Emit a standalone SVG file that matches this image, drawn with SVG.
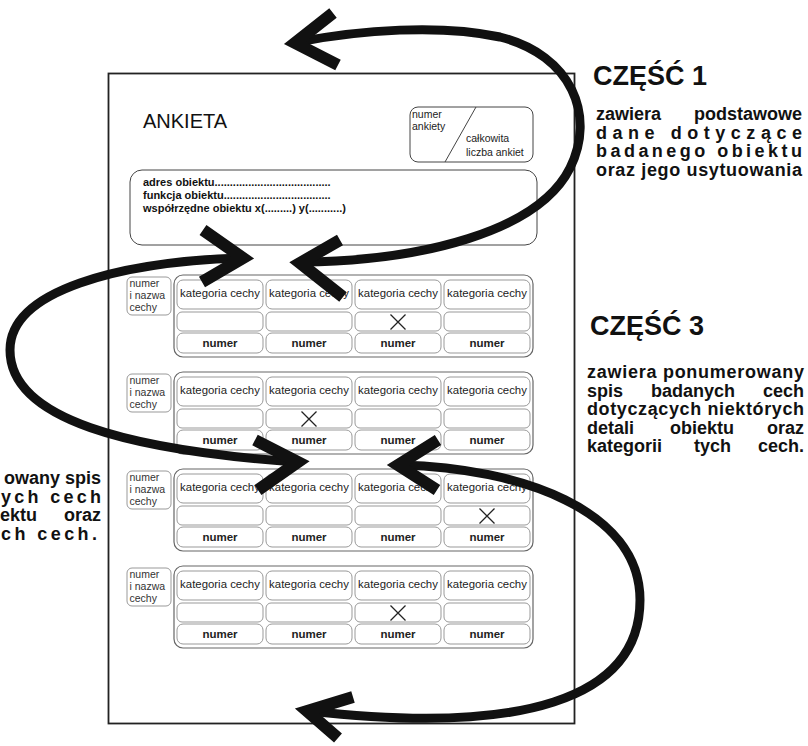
<svg xmlns="http://www.w3.org/2000/svg" width="808" height="746" viewBox="0 0 808 746">
<defs>
<style>
text{font-family:"Liberation Sans",Arial,sans-serif;fill:#111}
.page{fill:#fff;stroke:#222;stroke-width:1.8}
.box{fill:none;stroke:#444;stroke-width:1}
.outer{fill:none;stroke:#666;stroke-width:1.2}
.cell{fill:none;stroke:#999;stroke-width:1}
.lbl{fill:none;stroke:#999;stroke-width:1}
.lt{font-size:10.5px;fill:#333}
.kat{font-size:11.4px;text-anchor:middle;fill:#222}
.num{font-size:11.5px;font-weight:bold;text-anchor:middle;fill:#222}
.x{stroke:#222;stroke-width:1.3}
.ttl{font-size:27px;font-weight:bold}
.body{font-size:18px;font-weight:bold}
.end{text-anchor:end}
.addr{font-size:11px;font-weight:bold}
.small{font-size:10.5px;fill:#222}
.curve{fill:none;stroke:#111;stroke-width:9;stroke-linecap:round}
.head{fill:none;stroke:#111;stroke-width:12;stroke-linejoin:miter;stroke-miterlimit:10}
</style>
<g id="row">
<rect class="lbl" x="127" y="2" width="44" height="38" rx="5"/>
<text class="lt" x="129.5" y="11.5">numer</text>
<text class="lt" x="129.5" y="23.5">i nazwa</text>
<text class="lt" x="129.5" y="35.5">cechy</text>
<rect class="outer" x="174" y="0" width="359" height="82" rx="9"/>
<rect class="cell" x="177" y="5" width="86" height="29" rx="6"/>
<rect class="cell" x="266" y="5" width="86" height="29" rx="6"/>
<rect class="cell" x="355" y="5" width="86" height="29" rx="6"/>
<rect class="cell" x="444" y="5" width="86" height="29" rx="6"/>
<rect class="cell" x="177" y="37" width="86" height="19" rx="5"/>
<rect class="cell" x="266" y="37" width="86" height="19" rx="5"/>
<rect class="cell" x="355" y="37" width="86" height="19" rx="5"/>
<rect class="cell" x="444" y="37" width="86" height="19" rx="5"/>
<rect class="cell" x="177" y="58" width="86" height="20" rx="6"/>
<rect class="cell" x="266" y="58" width="86" height="20" rx="6"/>
<rect class="cell" x="355" y="58" width="86" height="20" rx="6"/>
<rect class="cell" x="444" y="58" width="86" height="20" rx="6"/>
<text class="kat" x="220" y="21.5">kategoria cechy</text>
<text class="kat" x="309" y="21.5">kategoria cechy</text>
<text class="kat" x="398" y="21.5">kategoria cechy</text>
<text class="kat" x="487" y="21.5">kategoria cechy</text>
<text class="num" x="220" y="71.5">numer</text>
<text class="num" x="309" y="71.5">numer</text>
<text class="num" x="398" y="71.5">numer</text>
<text class="num" x="487" y="71.5">numer</text>
</g>
<path id="cross" class="x" d="M-7.5,-7.5L7.5,7.5M7.5,-7.5L-7.5,7.5"/>
</defs>

<g id="page">
<rect class="page" x="108.5" y="73.5" width="466" height="650"/>
<text x="143" y="128" style="font-size:20px">ANKIETA</text>
</g>

<g id="numer-ankiety">
<rect class="box" x="410" y="107" width="123" height="55" rx="8"/>
<line class="box" x1="476" y1="107" x2="445" y2="162"/>
<text class="small" x="412" y="118">numer</text>
<text class="small" x="412" y="130">ankiety</text>
<text class="small" x="466" y="142">całkowita</text>
<text class="small" x="466" y="156">liczba ankiet</text>
</g>

<g id="adres">
<rect class="box" x="130" y="170" width="407" height="75" rx="12"/>
<text class="addr" x="143" y="186">adres obiektu<tspan>......................................</tspan></text>
<text class="addr" x="143" y="199">funkcja obiektu<tspan>...................................</tspan></text>
<text class="addr" x="143" y="212">współrzędne obiektu x(.........) y(...........)</text>
</g>

<g id="row1"><use href="#row" transform="translate(0,275)"/><use href="#cross" x="398" y="322"/></g>
<g id="row2"><use href="#row" transform="translate(0,372)"/><use href="#cross" x="309" y="419"/></g>
<g id="row3"><use href="#row" transform="translate(0,469)"/><use href="#cross" x="487" y="516"/></g>
<g id="row4"><use href="#row" transform="translate(0,566)"/><use href="#cross" x="398" y="613"/></g>

<g id="czesc1">
<text class="ttl" x="593" y="85">CZĘŚĆ 1</text>
<text class="body" x="596" y="120">zawiera</text>
<text class="body end" x="802" y="120">podstawowe</text>
<text class="body" x="596" y="138.5" textLength="206" lengthAdjust="spacing">dane dotyczące</text>
<text class="body" x="596" y="157" textLength="206" lengthAdjust="spacing">badanego obiektu</text>
<text class="body" x="596" y="175.5" textLength="206" lengthAdjust="spacing">oraz jego usytuowania</text>
</g>

<g id="czesc3">
<text class="ttl" x="590" y="335">CZĘŚĆ 3</text>
<text class="body" x="587" y="378" textLength="217" lengthAdjust="spacing">zawiera ponumerowany</text>
<text class="body" x="587" y="396.5">spis</text>
<text class="body" x="651" y="396.5">badanych</text>
<text class="body end" x="804" y="396.5">cech</text>
<text class="body" x="587" y="415" textLength="217" lengthAdjust="spacing">dotyczących niektórych</text>
<text class="body" x="587" y="433.5">detali</text>
<text class="body" x="670" y="433.5">obiektu</text>
<text class="body end" x="804" y="433.5">oraz</text>
<text class="body" x="587" y="452">kategorii</text>
<text class="body" x="694" y="452">tych</text>
<text class="body end" x="804" y="452">cech.</text>
</g>

<g id="czesc2">
<text class="body end" x="101" y="484">owany spis</text>
<text class="body" x="1" y="502.5" textLength="100" lengthAdjust="spacing">ych cech</text>
<text class="body" x="0" y="521">ektu</text>
<text class="body end" x="101" y="521">oraz</text>
<text class="body" x="1" y="539.5" textLength="96" lengthAdjust="spacing">ch cech.</text>
</g>

<g id="connectors">
<path class="curve" d="M302,262 C420,261 538,232 570,168 C596,116 572,55 500,37 C440,24 360,30 298,42"/>
<polyline class="head" points="333,13 295,43 338,65"/>
<polyline class="head" points="340,240 300,263 343,297"/>
<path class="curve" d="M240,258 C120,262 10,290 10,350 C10,420 130,450 295,462"/>
<polyline class="head" points="203,230 243,258 202,282"/>
<polyline class="head" points="255,440 298,462 258,490"/>
<path class="curve" d="M401,465 C520,468 640,510 640,600 C640,700 520,735 310,711"/>
<polyline class="head" points="438,440 398,465 437,490"/>
<polyline class="head" points="353,697 307,711 338,738"/>
</g>
</svg>
